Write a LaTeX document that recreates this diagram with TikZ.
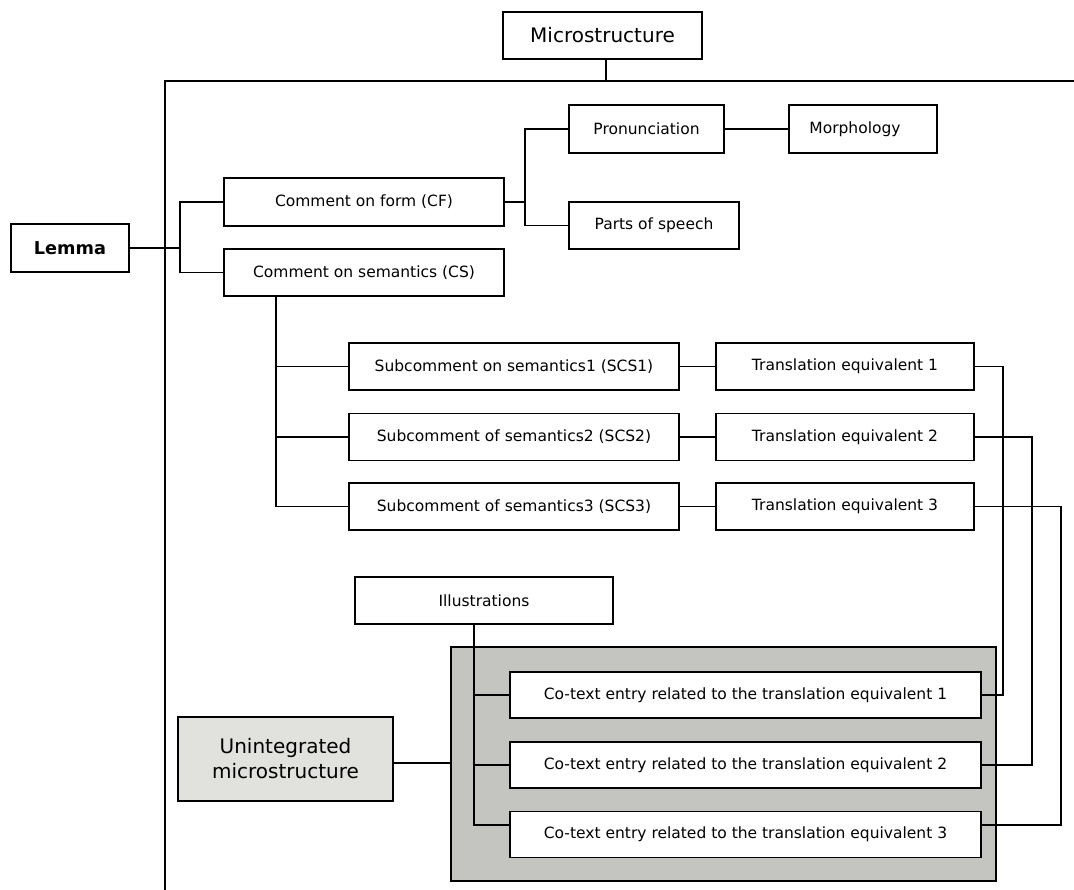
\documentclass[tikz,border=0pt]{standalone}
\usepackage{fontspec}
\setmainfont{DejaVu Sans}
\definecolor{paleshade}{HTML}{E1E2DE}
\definecolor{midshade}{HTML}{C4C5C1}
\begin{document}
\begin{tikzpicture}[x=1pt,y=-1pt,
  every node/.style={inner sep=0pt,outer sep=0pt},
  box/.style={draw,line width=1.8pt,fill=white,minimum height=47,
    font=\fontsize{15.5}{18}\selectfont},
  bigbox/.style={box,font=\fontsize{20}{25}\selectfont},
  wire/.style={line width=1.8pt}]
\useasboundingbox (0,0) rectangle (1074,890);
\fill[white] (0,0) rectangle (1074,890);

% outer frame of the microstructure
\coordinate (frameBL) at (165,892);
\coordinate (frameTL) at (165,81);
\coordinate (frameTR) at (1076,81);
\draw[wire] (frameBL) -- (frameTL) -- (frameTR);

% heading
\node[bigbox,minimum width=199] (micro) at (602.5,35.5) {Microstructure};
\draw[wire] ([xshift=3.5pt]micro.south) -- ([xshift=3.5pt]micro.south |- frameTL);

% lemma and first-level comments
\node[box,minimum width=118,minimum height=48,font=\fontsize{17.7}{20}\selectfont\bfseries] (lemma) at (70,248) {Lemma};
\node[box,minimum width=280,minimum height=48] (cf) at (364,202) {Comment on form (CF)};
\node[box,minimum width=280] (cs) at (364,272.5) {Comment on semantics (CS)};
\coordinate (ljoin) at (180,248);
\draw[wire] (lemma.east) -- (ljoin);
\draw[wire] (cf.west) -| (ljoin) |- (cs.west);

% comment on form
\node[box,minimum width=155,minimum height=48] (pron) at (646.5,129) {Pronunciation};
\node[box,minimum width=148,minimum height=48] (morph) at (863,129) {\hspace*{-16pt}Morphology};
\node[box,minimum width=170] (pos) at (654,225.5) {Parts of speech};
\coordinate (fjoin) at (525,202);
\draw[wire] (cf.east) -- (fjoin);
\draw[wire] (pron.west) -| (fjoin) |- (pos.west);
\draw[wire] (pron.east) -- (morph.west);

% comment on semantics
\node[box,minimum width=330] (scs1) at (514,366.5) {Subcomment on semantics1 (SCS1)};
\node[box,minimum width=330] (scs2) at (514,437) {Subcomment of semantics2 (SCS2)};
\node[box,minimum width=330] (scs3) at (514,506.5) {Subcomment of semantics3 (SCS3)};
\node[box,minimum width=258] (te1) at (845,366.5) {Translation equivalent 1};
\node[box,minimum width=258] (te2) at (845,437) {Translation equivalent 2};
\node[box,minimum width=258] (te3) at (845,506.5) {Translation equivalent 3};
\coordinate (sbus) at (276,0);
\draw[wire] ([xshift=-88pt]cs.south) |- (scs3.west);
\draw[wire] (scs1.west) -- (scs1.west -| sbus);
\draw[wire] (scs2.west) -- (scs2.west -| sbus);
\foreach \i in {1,2,3} \draw[wire] (scs\i.east) -- (te\i.west);

% unintegrated part
\node[draw,line width=1.8pt,fill=midshade,minimum width=545,minimum height=234] (cobox) at (723.5,764) {};
\node[bigbox,fill=paleshade,minimum width=215,minimum height=84,align=center] (unint) at (285.5,759)
  {Unintegrated\\microstructure};
\draw[wire] ([yshift=-4pt]unint.east) -- ([yshift=-4pt]unint.east -| cobox.west);

\node[box,minimum width=258] (illus) at (484,600.5) {Illustrations};
\node[box,minimum width=471,minimum height=46] (co1) at (745.5,695) {Co-text entry related to the translation equivalent 1};
\node[box,minimum width=471,minimum height=46] (co2) at (745.5,765) {Co-text entry related to the translation equivalent 2};
\node[box,minimum width=471,minimum height=46] (co3) at (745.5,834.5) {Co-text entry related to the translation equivalent 3};
\coordinate (co3tap) at ([yshift=9.5pt]co3.east);
\coordinate (co3left) at ([yshift=9.5pt]co3.west);
\coordinate (ibus) at (474,0);
\draw[wire] ([xshift=-10pt]illus.south) |- (co3left);
\draw[wire] (co1.west) -- (co1.west -| ibus);
\draw[wire] (co2.west) -- (co2.west -| ibus);

% translation equivalents linked to their co-text entries
\draw[wire] (te1.east) -- ++(29,0) |- (co1.east);
\draw[wire] (te2.east) -- ++(58,0) |- (co2.east);
\draw[wire] (te3.east) -- ++(87,0) |- (co3tap);
\end{tikzpicture}
\end{document}
